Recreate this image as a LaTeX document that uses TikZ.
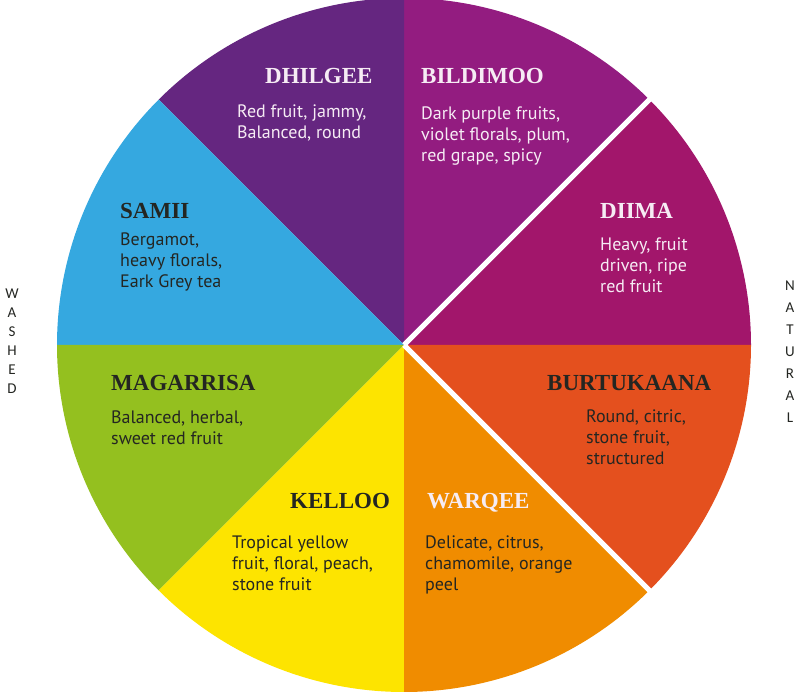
\documentclass[tikz,border=0pt]{standalone}
\usepackage{fontspec}
\usetikzlibrary{calc}
\setmainfont{PT Sans}
\newfontfamily\headfont{Liberation Serif}
\newfontfamily\sidefont{Carlito}
\definecolor{cDhilgee}{RGB}{101,38,128}
\definecolor{cBildimoo}{RGB}{147,28,128}
\definecolor{cDiima}{RGB}{162,22,107}
\definecolor{cBurtu}{RGB}{228,80,30}
\definecolor{cWarqee}{RGB}{240,140,0}
\definecolor{cKelloo}{RGB}{253,228,0}
\definecolor{cMagar}{RGB}{148,192,31}
\definecolor{cSamii}{RGB}{53,168,224}
\definecolor{lightT}{RGB}{246,236,244}
\definecolor{darkT}{RGB}{36,38,34}
\tikzset{
  head/.style={anchor=base west, inner sep=0pt, font=\headfont\bfseries\fontsize{23}{27}\selectfont},
  body/.style={anchor=base west, inner sep=0pt, align=left, font=\fontsize{18}{21}\selectfont},
  side/.style={inner sep=0pt, align=center, text=darkT},
  sep/.style={draw=white, line width=5pt}
}
\begin{document}
\begin{tikzpicture}[x=1pt,y=-1pt]
\useasboundingbox (0,0) rectangle (800,692);
\coordinate (c) at (404,345);
\def\R{347}
% sectors (TikZ angle = - visual angle since y is flipped)
\fill[cDiima]    (c) -- ++(0:\R)    arc (0:-45:\R) -- cycle;
\fill[cBildimoo] (c) -- ++(-45:\R)  arc (-45:-90:\R) -- cycle;
\fill[cDhilgee]  (c) -- ++(-90:\R)  arc (-90:-135:\R) -- cycle;
\fill[cSamii]    (c) -- ++(-135:\R) arc (-135:-180:\R) -- cycle;
\fill[cMagar]    (c) -- ++(180:\R)  arc (180:135:\R) -- cycle;
\fill[cKelloo]   (c) -- ++(135:\R)  arc (135:90:\R) -- cycle;
\fill[cWarqee]   (c) -- ++(90:\R)   arc (90:45:\R) -- cycle;
\fill[cBurtu]    (c) -- ++(45:\R)   arc (45:0:\R) -- cycle;
\coordinate (e1) at ($(c)+(-45:349)$);
\coordinate (e2) at ($(c)+(45:349)$);
\draw[sep] (c) -- (e1);
\draw[sep] (c) -- (e2);
% headings
\node[head, text=lightT] (hDhilgee) at (265,84) {DHILGEE};
\node[head, text=lightT] (hBildimoo) at (421,84) {BILDIMOO};
\node[head, text=darkT] (hSamii) at (120,219) {SAMII};
\node[head, text=lightT] (hDiima) at (600,219) {DIIMA};
\node[head, text=darkT] (hMagar) at (111,390) {MAGARRISA};
\node[head, text=darkT] (hBurtu) at (547,390) {BURTUKAANA};
\node[head, text=darkT] (hKelloo) at (290,508) {KELLOO};
\node[head, text=lightT] (hWarqee) at (427,508) {WARQEE};
% bodies (anchor = baseline of last line)
\node[body, text=lightT] (bDhilgee) at (237,139) {Red fruit, jammy,\\Balanced, round};
\node[body, text=lightT] (bBildimoo) at (421,162) {Dark purple fruits,\\violet florals, plum,\\red grape, spicy};
\node[body, text=darkT] (bSamii) at (120,288) {Bergamot,\\heavy florals,\\Eark Grey tea};
\node[body, text=lightT] (bDiima) at (600,293) {Heavy, fruit\\driven, ripe\\red fruit};
\node[body, text=darkT] (bMagar) at (111,444) {Balanced, herbal,\\sweet red fruit};
\node[body, text=darkT] (bBurtu) at (586,464) {Round, citric,\\stone fruit,\\structured};
\node[body, text=darkT] (bKelloo) at (232,590) {Tropical yellow\\fruit, floral, peach,\\stone fruit};
\node[body, text=darkT] (bWarqee) at (425,590) {Delicate, citrus,\\chamomile, orange\\peel};
% side labels
\node[side, font=\sidefont\fontsize{15}{19}\selectfont] (washed) at (12,341) {W\\A\\S\\H\\E\\D};
\node[side, font=\sidefont\fontsize{15}{22}\selectfont] (natural) at (790,352) {N\\A\\T\\U\\R\\A\\L};
\end{tikzpicture}
\end{document}
